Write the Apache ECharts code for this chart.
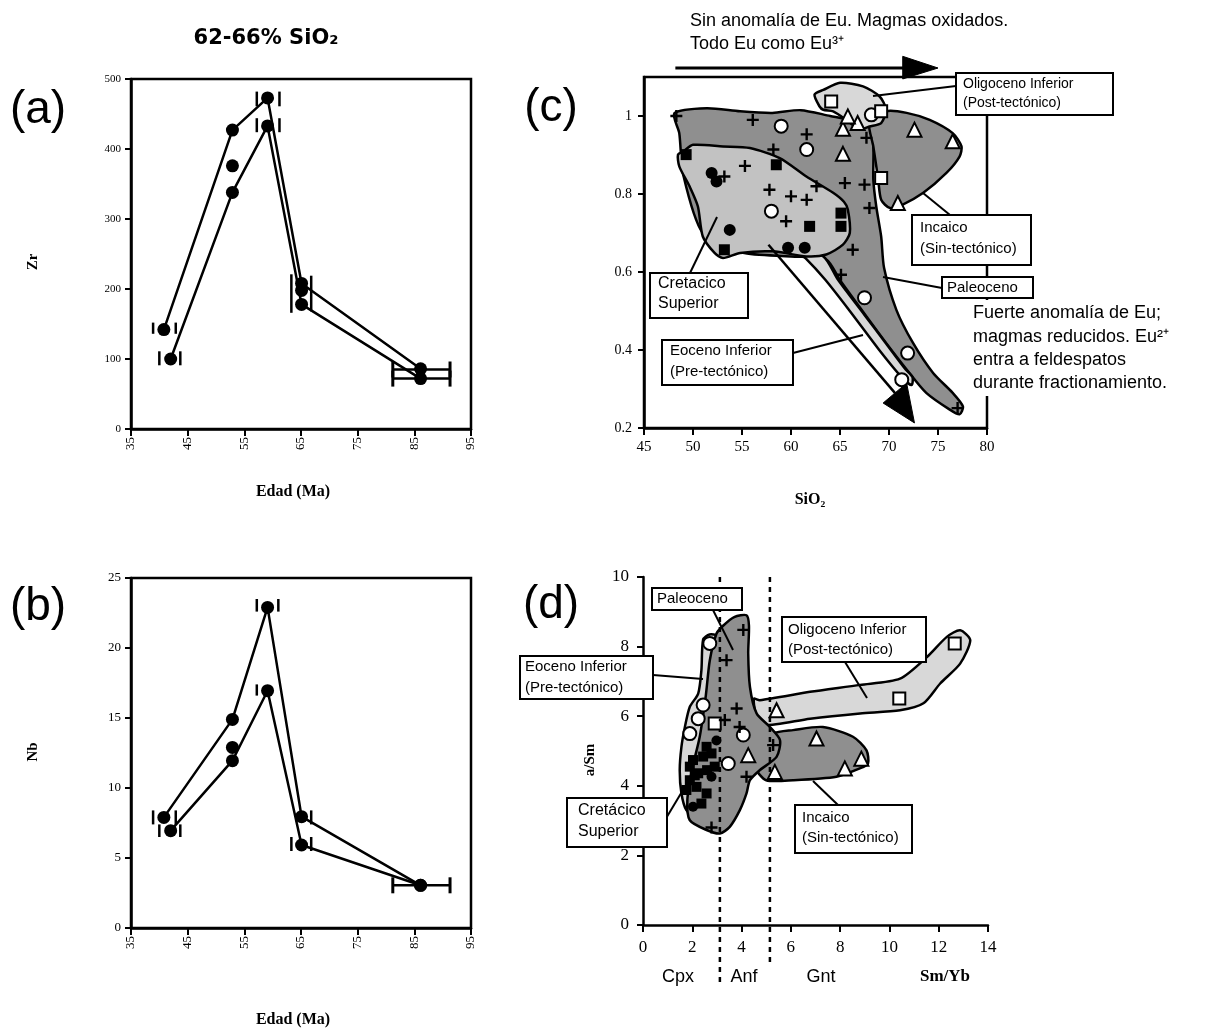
<!DOCTYPE html>
<html><head><meta charset="utf-8">
<script src="https://cdn.jsdelivr.net/npm/echarts@6/dist/echarts.min.js"></script>
<style>html,body{margin:0;padding:0;background:#fff}#c{width:1205px;height:1028px}</style>
</head><body><div id="c"></div>
<script>
// ---------- Panel (a): Zr vs Edad ----------
const zrUpper = [[40.8,142],[52.9,427],[59.1,473],[65.1,208],[86.1,86]];
const zrLower = [[42.0,100],[52.9,338],[59.1,433],[65.1,178],[86.1,72]];
const zrExtra = [[52.9,376],[65.1,198]];
const zrVBars = [[38.9,136,152],[42.9,136,152],[40.0,91,111],[43.7,91,111],
                 [57.2,461,482],[61.2,461,482],[57.2,424,444],[61.2,424,444],
                 [63.3,166,221],[66.8,168,219]];
const zrHBars = [[81.2,91.3,85],[81.2,91.3,72]];
// ---------- Panel (b): Nb vs Edad ----------
const nbUpper = [[40.8,7.9],[52.9,14.9],[59.1,22.9],[65.1,7.95],[86.1,3.05]];
const nbLower = [[42.0,6.95],[52.9,11.95],[59.1,16.95],[65.1,5.93],[86.1,3.05]];
const nbExtra = [[52.9,12.9]];
const nbVBars = [[38.9,7.4,8.4],[42.9,7.4,8.4],[40.0,6.5,7.4],[43.7,6.5,7.4],
                 [57.2,22.6,23.5],[61.0,22.6,23.5],[57.2,16.6,17.4],
                 [66.8,7.4,8.4],[63.3,5.5,6.5],[66.8,5.5,6.5]];
const nbHBars = [[81.2,91.3,3.05]];
// ---------- Panel (c): Eu/Eu* vs SiO2 ----------
const cPaleoceno = [[48.1,1.007],[51.4,1.02],[54.8,1.012],[58.1,1.008],[61,1.015],[64,1.0],[66,0.99],[68.0,0.975],[68.4,0.922],[68.4,0.837],[68.7,0.768],[69.2,0.691],[69.5,0.61],[70.75,0.503],[72.45,0.418],[74.5,0.341],[76.5,0.29],[77.55,0.255],[77.2,0.235],[76.2,0.247],[73.8,0.29],[71.8,0.35],[69.7,0.418],[67.7,0.486],[64.97,0.58],[63.6,0.632],[60,0.64],[55,0.65],[51,0.7],[49,0.85],[48.6,0.956]];
const cIncaico = [[68.0,0.982],[69.7,1.012],[71.8,1.008],[74.15,0.99],[76.5,0.956],[77.4,0.922],[77.2,0.896],[75.86,0.854],[73.5,0.803],[71.4,0.773],[70.1,0.764],[69.2,0.785],[68.9,0.837],[68.4,0.922]];
const cOligoceno = [[62.4,1.055],[63.3,1.067],[65.0,1.085],[67.35,1.076],[69.05,1.05],[69.7,1.016],[69.2,0.982],[68.0,0.973],[67.0,0.965],[65.65,0.99],[64.3,1.012],[63.3,1.016],[62.9,1.025]];
const cEoceno = [[60.5,0.655],[63.3,0.64],[64.8,0.58],[67.5,0.49],[69.6,0.42],[71.7,0.35],[72.4,0.33],[72.3,0.31],[71.3,0.33],[69,0.40],[66,0.50],[63.5,0.58],[61.5,0.635]];
const cCretacico = [[48.47,0.901],[49.0,0.909],[50.0,0.926],[53.06,0.922],[55.8,0.918],[58.85,0.892],[61.57,0.845],[64.3,0.803],[65.4,0.78],[65.8,0.76],[66.0,0.70],[65.3,0.67],[63.6,0.645],[61.57,0.64],[58.16,0.653],[54.8,0.649],[53.06,0.636],[52.2,0.649],[51.0,0.691],[50.5,0.768],[49.66,0.819],[48.6,0.871]];
const cArrowShaft = [[57.7,0.67,70.6,0.29]];
const cArrowHead = [[69.4,0.264],[71.8,0.315],[72.6,0.213]];
const cTopShaft = [[48.2,1.123,71.6,1.123]];
const cTopHead = [[71.4,1.153],[75.0,1.123],[71.4,1.095]];
const cOpenCircle = [[59.0,0.974],[61.6,0.914],[68.2,1.003],[58.0,0.756],[67.5,0.534],[71.9,0.392],[71.3,0.324]];
const cOpenSquare = [[64.1,1.037],[69.2,1.012],[69.2,0.841]];
const cOpenTriangle = [[65.3,0.967],[66.8,0.982],[65.8,0.999],[65.3,0.903],[72.6,0.965],[76.5,0.935],[70.9,0.777]];
const cCross = [[48.3,1.0],[56.1,0.99],[61.6,0.953],[67.7,0.944],[55.3,0.872],[53.2,0.845],[57.8,0.811],[60.0,0.794],[61.6,0.785],[59.5,0.73],[62.6,0.82],[65.5,0.828],[67.5,0.824],[68.0,0.764],[66.3,0.657],[65.1,0.593],[77.0,0.251],[58.2,0.914]];
const cFilledCircle = [[51.9,0.854],[52.4,0.832],[53.75,0.708],[59.7,0.662],[61.4,0.662]];
const cFilledSquare = [[49.3,0.901],[58.5,0.875],[53.2,0.657],[61.9,0.717],[65.1,0.751],[65.1,0.717]];
// ---------- Panel (d): La/Sm vs Sm/Yb ----------
const dEoceno = [[2.44,8.2],[2.7,8.35],[3.0,8.3],[2.95,7.2],[2.8,6.0],[2.6,5.0],[2.4,4.0],[2.6,3.0],[2.24,3.0],[1.76,3.3],[1.56,3.78],[1.49,4.45],[1.56,5.12],[1.7,5.69],[1.9,6.27],[2.24,6.65],[2.37,7.32]];
const dOligoceno = [[4.5,6.5],[4.74,6.46],[6.78,6.7],[8.81,6.9],[10.43,7.08],[11.52,7.7],[12.33,8.28],[12.87,8.47],[13.28,8.18],[12.87,7.51],[12.06,6.94],[11.38,6.37],[10.43,6.17],[8.81,6.08],[6.78,5.93],[4.9,5.74],[4.6,6.0]];
const dIncaico = [[4.6,4.5],[5.0,5.1],[5.3,5.5],[6.09,5.6],[7.3,5.69],[8.52,5.41],[9.07,5.02],[9.13,4.64],[8.8,4.5],[7.85,4.26],[6.09,4.16],[5.0,4.16]];
const dPaleoceno = [[2.98,8.37],[3.25,8.6],[3.7,8.85],[4.2,8.9],[4.3,8.6],[4.27,7.8],[4.34,6.84],[4.61,6.08],[5.15,5.69],[5.56,5.31],[5.42,4.83],[4.74,4.45],[4.34,4.16],[4.2,3.78],[3.93,3.3],[3.52,2.82],[3.12,2.63],[2.58,2.73],[1.9,3.01],[1.8,3.6],[2.0,4.5],[2.3,5.4],[2.55,6.6],[2.71,7.6]];
const dDashed = [[3.12,10,-1.7],[5.15,10,-1.2]];
const dOpenCircle = [[2.71,8.09],[2.44,6.32],[2.24,5.93],[1.9,5.5],[4.07,5.46],[3.46,4.64]];
const dOpenSquare = [[2.91,5.79],[10.4,6.51],[12.65,8.09]];
const dOpenTriangle = [[5.42,6.17],[4.27,4.88],[5.35,4.4],[7.04,5.36],[8.19,4.5],[8.86,4.78]];
const dCross = [[4.07,8.48],[3.39,7.61],[3.8,6.22],[3.32,5.89],[5.28,5.17],[4.2,4.26],[2.78,2.8],[3.92,5.69]];
const dFilledSquare = [[2.03,4.74],[1.9,4.55],[2.24,4.36],[2.58,5.12],[2.78,4.93],[2.91,4.55],[2.17,3.97],[1.9,4.16],[2.58,3.78],[2.37,3.49],[1.76,3.88],[2.44,4.84],[2.1,4.3],[2.6,4.45]];
const dFilledCircle = [[2.78,4.26],[2.03,3.4],[2.98,5.3]];
// tick labels
const ageTicks = [35,45,55,65,75,85,95];

const FS = '"Liberation Serif","DejaVu Serif",serif';
const SS = '"Liberation Sans",Arial,sans-serif';
const DARK = '#8f8f8f', LIGHT = '#d8d8d8', MID = '#c2c2c2';
const CROSS = 'path://M4,0H6V4H10V6H6V10H4V6H0V4H4Z';

function polyS(gi, pts, fill, z) {
  return {type:'custom', xAxisIndex:gi, yAxisIndex:gi, silent:true, z:z, data:pts,
    renderItem:function(params, api){
      if (params.dataIndex !== 0) return null;
      return {type:'polygon', shape:{points: pts.map(function(p){return api.coord(p);}), smooth:0.25},
              style:{fill:fill, stroke:'#000', lineWidth:2.5}};
    }};
}
function headS(gi, pts) {
  return {type:'custom', xAxisIndex:gi, yAxisIndex:gi, silent:true, z:4, data:pts,
    renderItem:function(params, api){
      if (params.dataIndex !== 0) return null;
      return {type:'polygon', shape:{points: pts.map(function(p){return api.coord(p);})},
              style:{fill:'#000', stroke:'#000', lineWidth:1}};
    }};
}
function segS(gi, data, width) {
  return {type:'custom', xAxisIndex:gi, yAxisIndex:gi, silent:true, z:4, data:data,
    renderItem:function(params, api){
      const a = api.coord([api.value(0), api.value(1)]);
      const b = api.coord([api.value(2), api.value(3)]);
      return {type:'line', shape:{x1:a[0],y1:a[1],x2:b[0],y2:b[1]},
              style:{stroke:'#000', lineWidth:width}};
    }};
}
function vBarS(gi, data) {
  return {type:'custom', xAxisIndex:gi, yAxisIndex:gi, silent:true, z:3, data:data,
    renderItem:function(params, api){
      const a = api.coord([api.value(0), api.value(1)]);
      const b = api.coord([api.value(0), api.value(2)]);
      return {type:'line', shape:{x1:a[0],y1:a[1],x2:b[0],y2:b[1]}, style:{stroke:'#000', lineWidth:2.5}};
    }};
}
function vDashS(gi, data) {
  return {type:'custom', xAxisIndex:gi, yAxisIndex:gi, silent:true, z:4, data:data,
    renderItem:function(params, api){
      const a = api.coord([api.value(0), api.value(1)]);
      const b = api.coord([api.value(0), api.value(2)]);
      return {type:'line', shape:{x1:a[0],y1:a[1],x2:b[0],y2:b[1]}, style:{stroke:'#000', lineWidth:2.5, lineDash:[5,5]}};
    }};
}
function hBarS(gi, data) {
  return {type:'custom', xAxisIndex:gi, yAxisIndex:gi, silent:true, z:3, data:data,
    renderItem:function(params, api){
      const a = api.coord([api.value(0), api.value(2)]);
      const b = api.coord([api.value(1), api.value(2)]);
      return {type:'group', children:[
        {type:'line', shape:{x1:a[0],y1:a[1],x2:b[0],y2:b[1]}, style:{stroke:'#000', lineWidth:2.5}},
        {type:'line', shape:{x1:a[0],y1:a[1]-8,x2:a[0],y2:a[1]+8}, style:{stroke:'#000', lineWidth:3}},
        {type:'line', shape:{x1:b[0],y1:b[1]-8,x2:b[0],y2:b[1]+8}, style:{stroke:'#000', lineWidth:3}}
      ]};
    }};
}
function lineS(gi, data) {
  return {type:'line', xAxisIndex:gi, yAxisIndex:gi, data:data, symbol:'circle', symbolSize:13,
    showSymbol:true, silent:true, z:5, lineStyle:{color:'#000', width:2.5}, itemStyle:{color:'#000'}};
}
function sc(gi, data, symbol, size, filled) {
  return {type:'scatter', xAxisIndex:gi, yAxisIndex:gi, data:data, symbol:symbol, symbolSize:size, silent:true, z:6,
    itemStyle:{color: filled ? '#000' : '#fff', borderColor:'#000', borderWidth: filled ? 0 : 2, opacity:1}};
}
function xAx(gi, min, max, interval, lab) {
  return {gridIndex:gi, type:'value', min:min, max:max, interval:interval,
    axisLine:{show:true, onZero:false, lineStyle:{color:'#000', width:2.5}},
    axisTick:{show:true, inside:false, length:7, lineStyle:{color:'#000', width:2}},
    splitLine:{show:false}, axisLabel: Object.assign({color:'#000', fontFamily:FS}, lab)};
}
function yAx(gi, min, max, interval, lab, extra) {
  return Object.assign({gridIndex:gi, type:'value', min:min, max:max, interval:interval,
    axisLine:{show:true, onZero:false, lineStyle:{color:'#000', width:2.5}},
    axisTick:{show:true, inside:false, length:6, lineStyle:{color:'#000', width:2}},
    splitLine:{show:false}, axisLabel: Object.assign({color:'#000', fontFamily:FS}, lab)}, extra || {});
}

// ---------- graphics (labels, boxes) ----------
const G = [];
function txt(x, y, s, font, align, rot) {
  G.push({type:'text', x:x, y:y, rotation:rot || 0, z:100,
    style:{text:s, font:font, fill:'#000', align:align || 'left', verticalAlign:'middle'}});
}
function box(x, y, w, h) {
  G.push({type:'rect', z:99, shape:{x:x, y:y, width:w, height:h}, style:{fill:'#fff', stroke:'#000', lineWidth:2}});
}
function ln(x1, y1, x2, y2, w) {
  G.push({type:'line', z:98, shape:{x1:x1, y1:y1, x2:x2, y2:y2}, style:{stroke:'#000', lineWidth:w || 2}});
}
// title and panel letters
txt(266, 39, '62-66% SiO₂', 'bold 21px "DejaVu Sans",sans-serif', 'center');
txt(38, 110, '(a)', '46px ' + SS, 'center');
txt(38, 607, '(b)', '46px ' + SS, 'center');
txt(551, 108, '(c)', '46px ' + SS, 'center');
txt(551, 605, '(d)', '46px ' + SS, 'center');
// axis names
txt(33, 262, 'Zr', 'bold 15px ' + FS, 'center', Math.PI / 2);
txt(293, 492, 'Edad (Ma)', 'bold 16px ' + FS, 'center');
txt(33, 752, 'Nb', 'bold 15px ' + FS, 'center', Math.PI / 2);
txt(293, 1020, 'Edad (Ma)', 'bold 16px ' + FS, 'center');
txt(810, 500, 'SiO₂', 'bold 16px ' + FS, 'center');
txt(590, 760, 'a/Sm', 'bold 15px ' + FS, 'center', Math.PI / 2);
txt(945, 977, 'Sm/Yb', 'bold 17px ' + FS, 'center');
txt(678, 977, 'Cpx', '18px ' + SS, 'center');
txt(744, 977, 'Anf', '18px ' + SS, 'center');
txt(821, 977, 'Gnt', '18px ' + SS, 'center');
// panel (c) annotations
txt(690, 21, 'Sin anomalía de Eu. Magmas oxidados.', '18px ' + SS);
txt(690, 44, 'Todo Eu como Eu³⁺', '18px ' + SS);
G.push({type:'rect', z:97, shape:{x:968, y:300, width:237, height:96}, style:{fill:'#fff'}});
txt(973, 313, 'Fuerte anomalía de Eu;', '18px ' + SS);
txt(973, 337, 'magmas reducidos. Eu²⁺', '18px ' + SS);
txt(973, 360, 'entra a feldespatos', '18px ' + SS);
txt(973, 383, 'durante fractionamiento.', '18px ' + SS);
ln(956, 86, 873, 96); box(956, 73, 157, 42);
txt(963, 84, 'Oligoceno Inferior', '14px ' + SS); txt(963, 103, '(Post-tectónico)', '14px ' + SS);
ln(950, 215, 923, 193); box(912, 215, 119, 50);
txt(920, 228, 'Incaico', '15px ' + SS); txt(920, 249, '(Sin-tectónico)', '15px ' + SS);
ln(942, 288, 883, 277); box(942, 277, 91, 21);
txt(947, 288, 'Paleoceno', '15px ' + SS);
ln(690, 273, 717, 217); box(650, 273, 98, 45);
txt(658, 284, 'Cretacico', '16px ' + SS); txt(658, 304, 'Superior', '16px ' + SS);
ln(793, 353, 863, 335); box(662, 340, 131, 45);
txt(670, 351, 'Eoceno Inferior', '15px ' + SS); txt(670, 372, '(Pre-tectónico)', '15px ' + SS);
// panel (d) annotations
ln(713, 610, 733, 650); box(652, 588, 90, 22);
txt(657, 599, 'Paleoceno', '15px ' + SS);
ln(845, 662, 867, 698); box(782, 617, 144, 45);
txt(788, 630, 'Oligoceno Inferior', '15px ' + SS); txt(788, 650, '(Post-tectónico)', '15px ' + SS);
ln(653, 675, 703, 679); box(520, 656, 133, 43);
txt(525, 667, 'Eoceno Inferior', '15px ' + SS); txt(525, 688, '(Pre-tectónico)', '15px ' + SS);
ln(665, 820, 683, 790); box(567, 798, 100, 49);
txt(578, 811, 'Cretácico', '16px ' + SS); txt(578, 832, 'Superior', '16px ' + SS);
ln(838, 805, 813, 781); box(795, 805, 117, 48);
txt(802, 818, 'Incaico', '15px ' + SS); txt(802, 838, '(Sin-tectónico)', '15px ' + SS);

const frame = {show:true, borderColor:'#000', borderWidth:2.5, backgroundColor:'transparent'};
const option = {
  animation:false,
  backgroundColor:'#fff',
  grid:[
    Object.assign({left:131, top:79, width:340, height:350}, frame),
    Object.assign({left:131, top:578, width:340, height:350}, frame),
    Object.assign({left:644, top:77, width:343, height:351}, frame),
    {left:643, top:577, width:345, height:348, show:false}
  ],
  xAxis:[
    xAx(0, 35, 95, 10, {rotate:90, fontSize:13, margin:8, customValues:ageTicks}),
    xAx(1, 35, 95, 10, {rotate:90, fontSize:13, margin:8, customValues:ageTicks}),
    xAx(2, 45, 80, 5, {fontSize:15, margin:12}),
    xAx(3, 0, 14, 2, {fontSize:17, margin:14})
  ],
  yAxis:[
    yAx(0, 0, 500, 100, {fontSize:11, margin:10}),
    yAx(1, 0, 25, 5, {fontSize:13, margin:10}),
    yAx(2, 0.2, 1.1, 0.2, {fontSize:14, margin:12, customValues:[0.2,0.4,0.6,0.8,1]},
        {axisTick:{show:true, length:6, lineStyle:{color:'#000', width:2}, customValues:[0.2,0.4,0.6,0.8,1]}}),
    yAx(3, 0, 10, 2, {fontSize:17, margin:14})
  ],
  graphic: G,
  series:[
    // (a)
    vBarS(0, zrVBars), hBarS(0, zrHBars),
    lineS(0, zrUpper), lineS(0, zrLower), sc(0, zrExtra, 'circle', 13, true),
    // (b)
    vBarS(1, nbVBars), hBarS(1, nbHBars),
    lineS(1, nbUpper), lineS(1, nbLower), sc(1, nbExtra, 'circle', 13, true),
    // (c)
    polyS(2, cPaleoceno, DARK, 1), polyS(2, cIncaico, DARK, 1), polyS(2, cOligoceno, LIGHT, 2),
    polyS(2, cEoceno, LIGHT, 2), polyS(2, cCretacico, MID, 3),
    segS(2, cArrowShaft, 2.5), headS(2, cArrowHead),
    segS(2, cTopShaft, 3), headS(2, cTopHead),
    sc(2, cOpenCircle, 'circle', 13, false), sc(2, cOpenSquare, 'rect', 12, false),
    sc(2, cOpenTriangle, 'triangle', 14, false), sc(2, cCross, CROSS, 12, true),
    sc(2, cFilledCircle, 'circle', 12, true), sc(2, cFilledSquare, 'rect', 11, true),
    // (d)
    polyS(3, dEoceno, LIGHT, 1), polyS(3, dOligoceno, LIGHT, 1), polyS(3, dIncaico, DARK, 2),
    polyS(3, dPaleoceno, DARK, 3),
    vDashS(3, dDashed),
    sc(3, dFilledSquare, 'rect', 10, true), sc(3, dFilledCircle, 'circle', 10, true),
    sc(3, dOpenCircle, 'circle', 13, false), sc(3, dOpenSquare, 'rect', 12, false),
    sc(3, dOpenTriangle, 'triangle', 14, false), sc(3, dCross, CROSS, 12, true)
  ]
};
const chart = echarts.init(document.getElementById('c'), null, {renderer:'canvas'});
chart.setOption(option);
</script></body></html>
